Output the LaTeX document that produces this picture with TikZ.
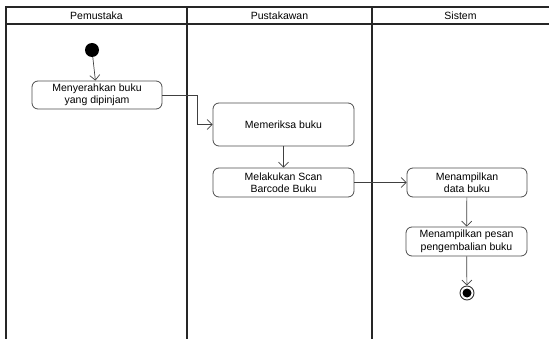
\documentclass[tikz,border=0pt]{standalone}
\usepackage{fontspec}
\setmainfont{Liberation Sans}
\usetikzlibrary{arrows.meta}
\begin{document}
\begin{tikzpicture}[x=1pt,y=-1pt,
  lane/.style={draw=black!85,line width=1.1pt},
  act/.style={draw=black!70,line width=0.8pt,rounded corners=6pt,align=center,inner sep=0pt,font=\fontsize{10.5}{12.5}\selectfont},
  hdr/.style={font=\fontsize{10.5}{12.5}\selectfont},
  flow/.style={draw=black!75,line width=0.7pt,-{Straight Barb[length=5pt,width=10pt,line width=0.7pt]}}]
\useasboundingbox (0,0) rectangle (549,339);
% swimlane frame
\draw[lane] (6,339) -- (6,7) -- (549,7);
\draw[lane] (6,24) -- (549,24);
\draw[lane] (187,7) -- (187,339);
\draw[lane] (372,7) -- (372,339);
\node[hdr] (h1) at (96.5,16) {Pemustaka};
\node[hdr] (h2) at (279.5,16) {Pustakawan};
\node[hdr] (h3) at (460.5,16) {Sistem};
% nodes
\node[circle,fill=black,minimum size=14pt,inner sep=0pt] (start) at (92,50) {};
\node[act,minimum width=130pt,minimum height=28pt] (a1) at (97,95) {Menyerahkan buku\\yang dipinjam};
\node[act,minimum width=141pt,minimum height=43pt] (a2) at (283.5,124.5) {Memeriksa buku};
\node[act,minimum width=141pt,minimum height=29pt] (a3) at (283.5,182.5) {Melakukan Scan\\Barcode Buku};
\node[act,minimum width=120pt,minimum height=29pt] (a4) at (467,182.5) {Menampilkan\\data buku};
\node[act,minimum width=121pt,minimum height=29pt] (a5) at (466.5,241.5) {Menampilkan pesan\\pengembalian buku};
\node[circle,draw=black!80,line width=0.9pt,minimum size=14pt,inner sep=0pt] (end) at (467,293) {};
\node[circle,fill=black,minimum size=9pt,inner sep=0pt] (endin) at (end.center) {};
% connectors
\draw[flow] (start) -- (a1);
\draw[flow] (a1.east) -- (197,95) |- (a2.west);
\draw[flow] (a2) -- (a3);
\draw[flow] (a3) -- (a4);
\draw[flow] (a4) -- (a5);
\draw[flow] (a5) -- (end);
\end{tikzpicture}
\end{document}
